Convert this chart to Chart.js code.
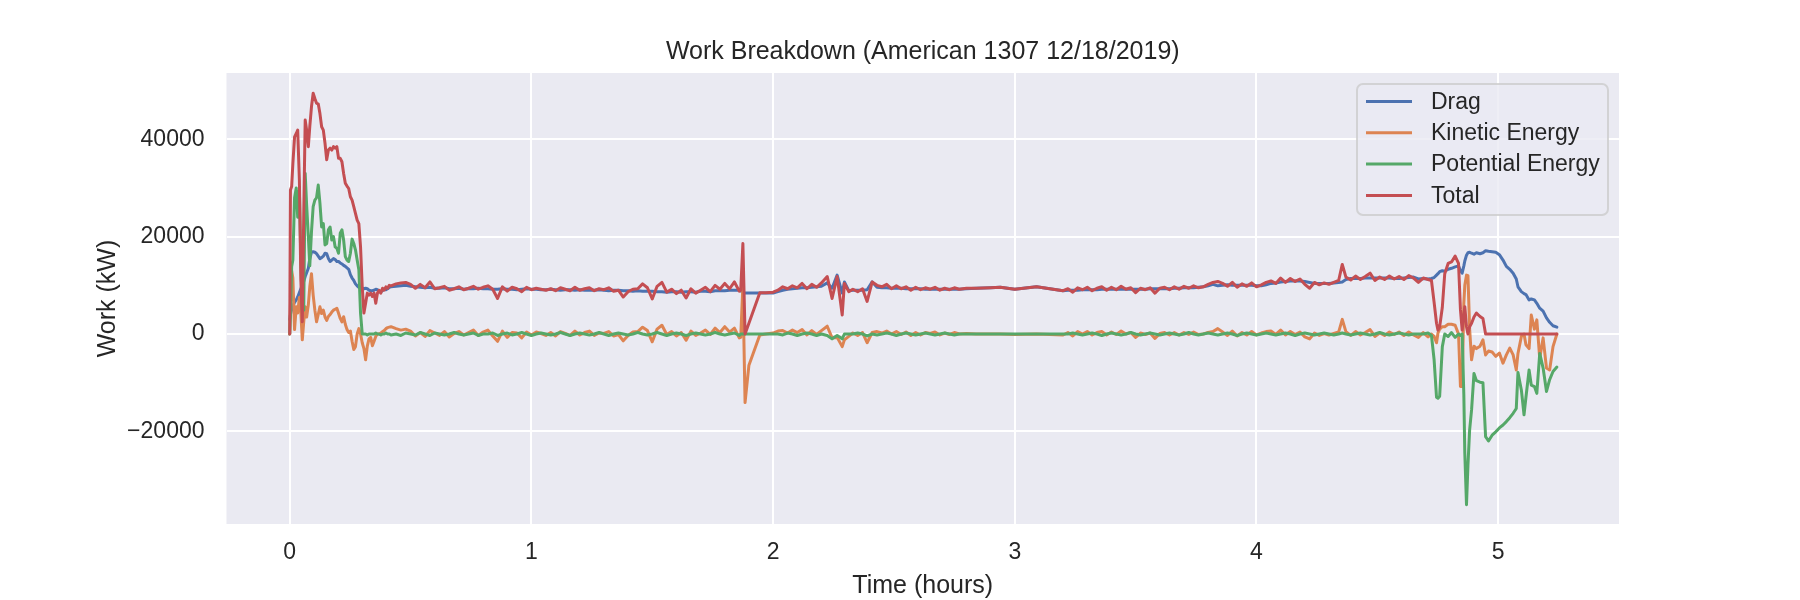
<!DOCTYPE html>
<html><head><meta charset="utf-8">
<script src="https://cdn.jsdelivr.net/npm/chart.js@4.4.1/dist/chart.umd.min.js"></script>
<style>html,body{margin:0;padding:0;background:#fff;}</style>
</head><body>
<canvas id="c" width="1800" height="600" style="width:1800px;height:600px;display:block"></canvas>
<script>
const hours = [
// start
0,0.003,0.008,0.013,0.02,0.027,0.033,0.04,0.046,0.052,
0.058,0.064,0.07,0.077,0.083,0.09,0.097,0.104,0.111,0.118,
0.125,0.132,0.139,0.146,0.153,0.16,0.167,0.174,0.181,0.188,
0.195,0.202,0.209,0.216,0.223,0.23,0.237,0.244,0.251,0.258,
0.265,0.272,0.279,0.286,0.293,0.3,0.307,0.314,0.321,0.328,
0.335,0.342,0.349,0.356,0.363,0.37,0.377,0.384,0.391,0.398,
0.405,0.412,0.419,
// cruise 1
0.44,0.46,0.48,0.50,0.52,0.54,0.56,0.58,0.60,0.62,
0.64,0.66,0.68,0.70,0.72,0.74,0.76,0.78,0.80,0.82,
0.84,0.86,0.88,0.90,0.92,0.94,0.96,0.98,1.00,1.02,
1.04,1.06,1.08,1.10,1.12,1.14,1.16,1.18,1.20,1.22,
1.24,1.26,1.28,1.30,1.32,1.34,1.36,1.38,1.40,1.42,
1.44,1.46,1.48,1.50,1.52,1.54,1.56,1.58,1.60,1.62,
1.64,1.66,1.68,1.70,1.72,1.74,1.76,1.78,1.80,1.82,
1.84,1.86,
// spike
1.866,1.875,1.884,1.90,1.945,1.97,2.0,
// cruise 2
2.02,2.04,2.06,2.08,2.10,2.12,2.14,2.16,2.18,2.20,
2.224,2.244,2.265,2.286,2.295,2.313,
2.33,2.35,2.37,2.389,2.41,
2.43,2.45,2.47,2.49,2.51,2.53,2.55,2.57,2.59,2.61,2.63,2.65,2.67,2.69,2.71,2.73,2.75,2.77,
2.80,2.84,2.90,2.94,3.00,3.09,3.20,
// cruise 3
3.22,3.24,3.26,3.28,3.30,3.32,3.34,3.36,3.38,3.40,
3.42,3.44,3.46,3.48,3.50,3.52,3.54,3.56,3.58,3.60,
3.62,3.64,3.66,3.68,3.70,3.72,3.74,3.76,3.78,3.80,
3.82,3.84,3.86,3.88,3.90,3.92,3.94,3.96,3.98,4.00,
4.02,4.04,4.06,4.08,4.10,4.12,4.14,4.16,4.18,4.20,
4.22,4.24,4.26,4.28,4.30,4.32,4.34,
4.355,
4.37,4.39,4.41,4.43,4.45,4.47,4.49,4.51,4.53,4.55,4.57,4.59,4.61,4.63,4.65,4.67,
// descent
4.69,4.71,4.724,4.735,4.745,4.751,4.758,4.769,4.779,4.793,
4.807,4.822,4.836,4.844,4.851,4.858,4.862,4.869,4.875,4.882,
4.89,4.9,4.91,4.925,4.937,4.948,4.96,4.975,4.99,5.005,
5.02,5.034,5.048,5.062,5.075,5.082,5.096,5.107,5.115,5.128,
5.137,5.15,5.16,5.172,5.186,5.2,5.213,5.227,5.243
];

const drag = [
3000,4000,5000,5800,6500,7000,7600,8500,9300,10000,
10800,11800,12600,13500,15500,16800,16900,16800,16500,16000,
15500,15700,16000,16600,16500,15500,14900,15200,15500,15300,
14900,14900,14600,14400,14100,13900,13600,13300,12200,11500,
11000,10300,9900,9600,9400,9400,9300,9400,9300,9000,
8900,8900,9000,9200,9100,8800,8700,8900,9200,9100,
9300,9600,9700,
9800,9900,10000,9800,9700,9600,9500,9600,9400,9400,
9500,9300,9300,9400,9200,9300,9300,9400,9300,9300,
9200,9200,9300,9200,9200,9100,9200,9300,9200,9200,
9100,9100,9200,9100,9000,9100,9100,9000,9100,9000,
9000,9000,9100,9000,8900,9000,9000,8900,8900,8800,
8900,8800,8800,8800,8700,8700,8600,8700,8700,8600,
8700,8700,8600,8800,8800,8700,8900,8900,8900,9000,
9000,9000,
8900,8500,8400,8400,8400,8400,8400,
8700,9000,9200,9300,9400,9500,9500,9600,9700,9800,
10500,9400,12100,8400,10700,8900,
9000,9000,9000,9100,10700,
9600,9500,9500,9400,9400,9400,9300,9300,9300,9300,9200,9200,9200,9200,9200,9200,9200,9200,
9300,9400,9500,9600,9200,9700,8900,
9000,9000,9000,9100,9100,9100,9100,9200,9200,9200,
9200,9200,9200,9200,9200,9200,9200,9300,9300,9300,
9300,9300,9400,9400,9500,9500,9500,9600,9700,9900,
10200,9900,10000,10100,10000,10000,10000,10000,10000,9900,
9900,10100,10400,10500,10700,10800,10900,10900,10900,10800,
10600,10400,10400,10400,10400,10500,10600,
10700,
11200,11400,11400,11400,11500,11500,11500,11500,11500,11500,11400,11400,11500,11600,11700,11300,
11400,11300,11400,11600,12100,12400,12800,13000,12900,13300,
13500,13800,14000,13000,12500,14000,15000,16200,16700,16800,
16600,16400,16700,16500,16700,17100,17000,16900,16800,16300,
15200,13900,13300,12500,11300,9700,8700,8300,8100,7000,
7200,7000,6300,5300,4700,3300,2400,1700,1400
];

const kinetic = [
0,6000,13000,11500,900,5600,4300,7500,4500,-1200,
2500,5600,3500,6000,9700,12400,8000,4900,2500,4000,
5600,4200,4900,3500,2800,3600,4000,4500,4900,5100,
5300,4250,3200,2500,3560,2000,900,300,600,-1500,
-3200,-2600,0,1100,0,-1800,-3000,-5300,-2500,-1000,
-700,-2400,-1500,-500,0,0,200,500,700,1100,
1300,1400,1500,
1100,800,1000,600,-400,300,-500,700,200,-300,
500,-600,100,500,-200,300,800,-300,400,800,
-400,-1500,600,-700,300,200,-800,400,-200,400,
100,-300,300,-400,500,100,-300,600,-200,300,
600,-300,200,100,500,-400,-100,-1400,-300,400,
500,1400,700,-1600,1000,1800,-100,500,-400,300,
-1300,600,-300,200,800,-100,1200,300,1500,400,
1200,-800,
-700,10000,-14100,-6400,-200,0,200,
600,700,200,800,300,900,-200,700,-100,700,
1600,-800,-700,-2600,-1200,-500,
200,-300,300,-1800,300,
500,200,600,0,500,-100,400,-300,300,-200,300,100,400,-200,200,-100,300,0,
100,0,0,0,-100,0,-200,
300,-400,500,0,500,-200,300,500,-200,400,
-100,600,0,300,-700,200,-100,200,-900,100,
300,-200,300,-200,300,-100,400,-100,0,300,
500,1100,400,-300,600,-400,300,-200,500,-200,
200,500,600,-100,800,-200,500,-100,400,-600,
-1000,200,-300,100,-200,100,400,
3000,
500,-300,500,-200,300,900,-500,200,-300,400,-100,400,-300,400,-200,-700,
300,-600,0,-500,-1800,200,1000,1500,1500,2000,
2000,1800,0,-10800,-10800,6300,10000,12100,12000,1000,
-5300,-2500,-3000,-2500,-1200,-4300,-3500,-3700,-4600,-3900,
-6000,-4300,-2900,-4300,-7400,-4000,-500,0,-2200,-3000,
3900,1000,2900,-5000,-800,-7000,-7400,-2600,0
];

const potential = [
0,4000,13800,15200,28000,30000,24000,29600,15000,4900,
4900,33000,26500,20000,14000,21000,26200,27500,28000,30600,
26900,22000,22700,18300,18600,21400,22000,19300,20000,17900,
17600,16600,20700,21400,19300,15900,15200,14900,16600,19500,
18600,17300,15200,13200,4300,0,0,0,-200,0,
0,0,0,200,0,0,-200,0,0,200,
0,0,-200,
0,-300,200,0,-200,300,0,-300,200,0,
-200,0,300,0,-200,0,200,-300,0,0,
200,-300,0,200,-200,0,300,0,-300,0,
200,0,-200,0,300,0,-300,0,200,0,
-200,0,300,0,-300,0,200,0,-200,0,
300,0,-200,0,300,0,-300,0,200,0,
-300,0,200,0,-200,0,300,0,-200,0,
200,-300,
0,0,0,0,0,0,0,
0,-200,200,0,-300,0,200,0,-300,0,
-300,-1000,-300,-1000,0,0,
0,200,0,-400,0,
-200,0,200,0,-300,0,200,0,-200,0,200,0,-200,0,200,0,-200,0,
0,0,0,0,0,0,0,
0,200,0,-200,0,200,0,-300,0,200,
0,-200,0,300,0,-200,0,200,0,-200,
0,200,0,-200,0,300,0,-200,0,200,
0,-200,0,200,0,-300,0,200,0,-200,
0,200,0,-200,0,200,0,-300,0,200,
0,-200,0,200,0,-200,0,
200,
0,-200,0,200,0,-200,0,300,0,-200,0,200,0,-200,0,0,
0,200,-300,-5300,-13000,-13200,-12800,-2600,0,-500,
300,-700,0,-300,0,-12500,-24500,-35100,-27000,-19700,
-15600,-8100,-9600,-9900,-10000,-21100,-22000,-20800,-20100,-19300,
-18700,-18000,-17200,-16300,-15300,-7900,-11500,-16600,-13000,-7400,
-10500,-10800,-12200,-4000,-7000,-11800,-9400,-7700,-6800
];

const total = [
0,29600,30300,35000,40500,41200,41900,31600,11100,2500,
24800,44000,41900,38500,42600,46700,49500,48400,47400,47300,
45300,42600,41900,39200,35800,37800,38200,37800,38500,38200,
38500,36100,36100,35400,33000,31000,30400,29900,28200,27500,
26200,24800,23400,22700,17900,9700,4300,6300,8400,8000,
8400,7700,8400,6300,8400,9000,8400,9400,9000,9700,
9400,10000,9900,
10300,10500,10600,10200,9400,10200,9500,10700,9300,9500,
9800,9000,9300,9700,9100,9400,9800,9200,9600,9900,
9200,7300,9700,8800,9600,9300,8700,9600,9100,9400,
9200,9000,9300,8900,9500,9200,8900,9600,9000,9300,
9500,8900,9300,9100,9500,8800,9000,7600,8700,9200,
9300,10300,9500,7200,9800,10600,8600,9200,8300,9000,
7400,9300,8400,9000,9600,8700,10000,9200,10400,9300,
10700,8800,
9000,18600,0,null,8500,8500,8600,
9000,9700,9300,9900,9500,10400,9300,10200,9600,10500,
11800,7300,11800,3900,10400,8700,
9200,8700,9300,6700,10700,
10000,9700,10200,9300,9900,9300,9700,9000,9600,9100,9500,9200,9600,9000,9400,9100,9500,9200,
9400,9400,9500,9600,9200,9700,8900,
9300,8600,9500,9100,9600,8900,9400,9700,9000,9600,
9100,9800,9200,9500,8500,9400,9100,9500,8400,9400,
9600,9100,9700,9200,9800,9400,9900,9500,9700,10200,
10600,10800,10400,9800,10600,9600,10300,9800,10500,9700,
10100,10600,10900,10400,11500,10600,11400,10800,11300,10200,
9400,10600,10100,10500,10200,10600,11000,
14300,
11700,11100,11900,11200,11800,12500,11000,11700,11200,11900,11300,11800,11200,12000,11500,10600,
11500,11200,11000,6500,2200,800,1500,5500,12400,14500,
14800,16000,14500,5000,800,4000,5600,1500,0,1500,
2200,3500,4300,3600,3200,0,0,0,0,0,
0,0,0,0,0,0,0,0,0,0,
0,0,0,0,0,0,0,0,0
];

const seriesNames = ['Drag', 'Kinetic Energy', 'Potential Energy', 'Total'];
const seriesColors = ['#4C72B0', '#DD8452', '#55A868', '#C44E52'];
const xTickValues = [0, 1, 2, 3, 4, 5];
const yTickValues = [-20000, 0, 20000, 40000];
const chartTitle = 'Work Breakdown (American 1307 12/18/2019)';
const xLabel = 'Time (hours)';
const yLabel = 'Work (kW)';

const FONT = "'Liberation Sans', Arial, sans-serif";
const TEXT = '#262626';
const seriesValues = [drag, kinetic, potential, total];

const bgPlugin = {
  id: 'bg',
  beforeDraw(chart) {
    const {ctx, chartArea: a} = chart;
    ctx.save();
    ctx.fillStyle = '#ffffff';
    ctx.fillRect(0, 0, chart.width, chart.height);
    ctx.fillStyle = '#EAEAF2';
    ctx.fillRect(a.left, a.top, a.right - a.left, a.bottom - a.top);
    ctx.restore();
  }
};

const legendPlugin = {
  id: 'mplLegend',
  afterDraw(chart) {
    const ctx = chart.ctx;
    const L = 1357, T = 84, W = 251, H = 131, r = 6;
    ctx.save();
    ctx.beginPath();
    ctx.moveTo(L + r, T);
    ctx.lineTo(L + W - r, T);
    ctx.arcTo(L + W, T, L + W, T + r, r);
    ctx.lineTo(L + W, T + H - r);
    ctx.arcTo(L + W, T + H, L + W - r, T + H, r);
    ctx.lineTo(L + r, T + H);
    ctx.arcTo(L, T + H, L, T + H - r, r);
    ctx.lineTo(L, T + r);
    ctx.arcTo(L, T, L + r, T, r);
    ctx.closePath();
    ctx.fillStyle = 'rgba(234,234,242,0.8)';
    ctx.fill();
    ctx.strokeStyle = 'rgba(204,204,204,0.8)';
    ctx.lineWidth = 2;
    ctx.stroke();
    ctx.font = '23px ' + FONT;
    ctx.textBaseline = 'middle';
    ctx.textAlign = 'left';
    seriesNames.forEach((name, i) => {
      const y = 101.5 + i * 31.3;
      ctx.beginPath();
      ctx.moveTo(1366, y);
      ctx.lineTo(1412, y);
      ctx.strokeStyle = seriesColors[i];
      ctx.lineWidth = 3;
      ctx.stroke();
      ctx.fillStyle = TEXT;
      ctx.fillText(name, 1431, y + 1);
    });
    const n = hours.length;
    if (seriesValues.some(s => s.length !== n)) {
      ctx.fillStyle = 'red';
      ctx.fillText('LEN ' + n + ' ' + seriesValues.map(s => s.length).join(' '), 10, 20);
    }
    ctx.restore();
  }
};

const datasets = seriesNames.map((name, i) => ({
  label: name,
  data: hours.map((h, j) => ({x: h, y: seriesValues[i][j]})),
  borderColor: seriesColors[i],
  backgroundColor: seriesColors[i],
  borderWidth: 3,
  pointRadius: 0,
  pointHoverRadius: 0,
  fill: false,
  tension: 0,
  spanGaps: true,
  borderJoinStyle: 'round',
  borderCapStyle: 'round',
  order: 4 - i
}));

new Chart(document.getElementById('c'), {
  type: 'line',
  data: {datasets},
  plugins: [bgPlugin, legendPlugin],
  options: {
    responsive: false,
    animation: false,
    devicePixelRatio: 1,
    layout: {padding: {left: 0, right: 181, top: 0, bottom: 0}},
    plugins: {
      legend: {display: false},
      tooltip: {enabled: false},
      title: {
        display: true, text: chartTitle, color: TEXT, fullSize: false,
        font: {family: FONT, size: 25, weight: 'normal', lineHeight: 1.2},
        padding: {top: 37, bottom: 6}
      }
    },
    scales: {
      x: {
        type: 'linear', min: -0.2616, max: 5.5,
        grid: {color: '#ffffff', lineWidth: 2, drawTicks: false},
        border: {display: false},
        afterBuildTicks: s => { s.ticks = xTickValues.map(v => ({value: v})); },
        afterFit: s => { s.height = 76; },
        ticks: {color: TEXT, font: {family: FONT, size: 23}, padding: 15, maxRotation: 0, autoSkip: false,
                callback: v => String(v)},
        title: {display: true, text: xLabel, color: TEXT,
                font: {family: FONT, size: 25, lineHeight: 1.12}, padding: {top: 0, bottom: 0}}
      },
      y: {
        type: 'linear', min: -39050, max: 53640,
        grid: {color: '#ffffff', lineWidth: 2, drawTicks: false},
        border: {display: false},
        afterBuildTicks: s => { s.ticks = yTickValues.map(v => ({value: v})); },
        afterFit: s => { s.width = 226.5; },
        ticks: {color: TEXT, font: {family: FONT, size: 23}, padding: 22, autoSkip: false,
                callback: v => (v < 0 ? '\u2212' + Math.abs(v) : String(v))},
        title: {display: true, text: yLabel, color: TEXT,
                font: {family: FONT, size: 25, lineHeight: 1.2}, padding: {top: 93, bottom: 0}}
      }
    }
  }
});
</script>
</body></html>
